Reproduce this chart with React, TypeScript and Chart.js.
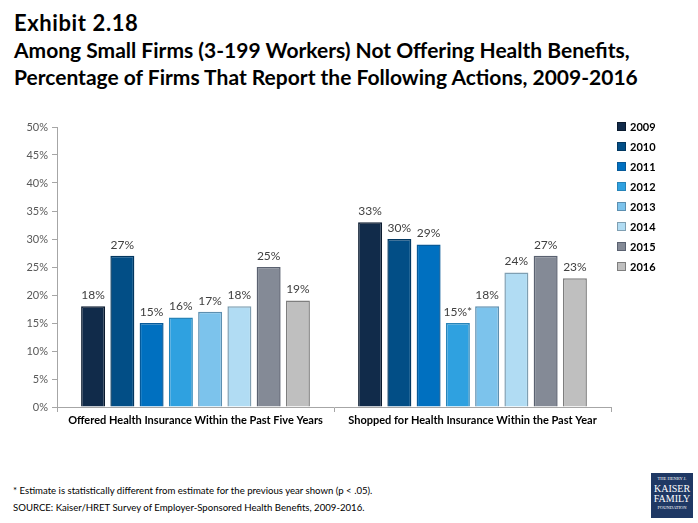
import React, { useEffect, useRef } from "react";
import { Chart, registerables } from "chart.js";

Chart.register(...registerables);

const categories = [
  "Offered Health Insurance Within the Past Five Years",
  "Shopped for Health Insurance Within the Past Year",
];
const years = ["2009", "2010", "2011", "2012", "2013", "2014", "2015", "2016"];
const values2009 = [18, 33];
const values2010 = [27, 30];
const values2011 = [15, 29];
const values2012 = [16, 15];
const values2013 = [17, 18];
const values2014 = [18, 24];
const values2015 = [25, 27];
const values2016 = [19, 23];
const seriesValues = [values2009, values2010, values2011, values2012, values2013, values2014, values2015, values2016];
// significance markers (series index 3 = 2012, category 1)
const significant = [[false, false], [false, false], [false, false], [false, true], [false, false], [false, false], [false, false], [false, false]];
const yTicks = [0, 5, 10, 15, 20, 25, 30, 35, 40, 45, 50];

const fillColors = ["#112B4A", "#024E86", "#0070C0", "#2FA1E0", "#7CC3EC", "#B1DCF3", "#848A96", "#BFBFBF"];
const borderColors = ["#0A1A2E", "#023760", "#075A99", "#2784B8", "#5C8FB0", "#7F9FB2", "#5A6170", "#7E7E7E"];

const FONT = "Lato, 'Open Sans', sans-serif";

const dataLabels = {
  id: "dataLabels",
  afterDatasetsDraw(chart: any) {
    const ctx = chart.ctx;
    ctx.save();
    ctx.font = `12px ${FONT}`;
    ctx.fillStyle = "#404040";
    ctx.textAlign = "center";
    ctx.textBaseline = "bottom";
    chart.data.datasets.forEach((ds: any, i: number) => {
      const meta = chart.getDatasetMeta(i);
      meta.data.forEach((bar: any, j: number) => {
        const v = ds.data[j];
        const label = `${v}%${significant[i][j] ? "*" : ""}`;
        ctx.fillText(label, bar.x, bar.y - 5);
      });
    });
    ctx.restore();
  },
};

export default function App() {
  const ref = useRef<HTMLCanvasElement>(null);
  useEffect(() => {
    if (!ref.current) return;
    const chart = new Chart(ref.current, {
      type: "bar",
      data: {
        labels: categories,
        datasets: years.map((y, i) => ({
          label: y,
          data: seriesValues[i],
          backgroundColor: fillColors[i],
          borderColor: borderColors[i],
          borderWidth: 1.5,
          barPercentage: 0.82,
          categoryPercentage: 0.845,
        })),
      },
      options: {
        animation: false,
        responsive: false,
        maintainAspectRatio: false,
        layout: { padding: { top: 12, right: 87, left: 0, bottom: 0 } },
        plugins: { legend: { display: false }, tooltip: { enabled: false } },
        scales: {
          x: {
            grid: { display: true, drawOnChartArea: false, drawTicks: true, tickLength: 5, color: "#A6A6A6", offset: true },
            border: { color: "#A6A6A6" },
            ticks: { color: "#000", font: { family: FONT, size: 11, weight: "bold" }, padding: 2 },
            afterFit: (s: any) => { s.height = 33; },
          },
          y: {
            min: 0,
            max: 50,
            afterBuildTicks: (s: any) => { s.ticks = yTicks.map((v) => ({ value: v })); },
            grid: { display: true, drawOnChartArea: false, drawTicks: true, tickLength: 5, color: "#A6A6A6" },
            border: { color: "#A6A6A6" },
            ticks: { color: "#595959", font: { family: FONT, size: 11 }, padding: 4, callback: (v: any) => `${v}%` },
            afterFit: (s: any) => { s.width = 57; },
          },
        },
      },
      plugins: [dataLabels],
    });
    return () => chart.destroy();
  }, []);

  return (
    <div style={{ position: "absolute", left: 0, top: 0, width: 698, height: 523, background: "#fff", fontFamily: FONT, overflow: "hidden" }}>
      <div style={{ position: "absolute", left: 14, top: 9, fontWeight: 700, color: "#000", lineHeight: "27px" }}>
        <div style={{ fontSize: 22, letterSpacing: 0.6 }}>Exhibit 2.18</div>
        <div style={{ fontSize: 21 }}>Among Small Firms (3-199 Workers) Not Offering Health Benefits,</div>
        <div style={{ fontSize: 21 }}>Percentage of Firms That Report the Following Actions, 2009-2016</div>
      </div>
      <canvas ref={ref} width={698} height={325} style={{ position: "absolute", left: 0, top: 115, width: 698, height: 325 }} />
      <div style={{ position: "absolute", left: 617, top: 117 }}>
        {years.map((y, i) => (
          <div key={y} style={{ display: "flex", alignItems: "center", height: 19.9, fontSize: 11, fontWeight: 700, color: "#000" }}>
            <span style={{ display: "inline-block", width: 7, height: 7, background: fillColors[i], border: `1px solid ${borderColors[i]}`, marginRight: 4 }} />
            {y}
          </div>
        ))}
      </div>
      <div style={{ position: "absolute", left: 13, top: 482, fontSize: 9.6, color: "#000", lineHeight: "17px" }}>
        <div>* Estimate is statistically different from estimate for the previous year shown (p &lt; .05).</div>
        <div>SOURCE: Kaiser/HRET Survey of Employer-Sponsored Health Benefits, 2009-2016.</div>
      </div>
      <div style={{ position: "absolute", left: 651, top: 473, width: 42, height: 45, background: "#1F3864", color: "#fff", fontFamily: "'Liberation Serif', serif", textAlign: "center", lineHeight: 1 }}>
        <div style={{ fontSize: 4.5, marginTop: 4 }}>THE HENRY J.</div>
        <div style={{ fontSize: 10, marginTop: 2 }}>KAISER</div>
        <div style={{ fontSize: 10 }}>FAMILY</div>
        <div style={{ fontSize: 4.5, marginTop: 2 }}>FOUNDATION</div>
      </div>
    </div>
  );
}
